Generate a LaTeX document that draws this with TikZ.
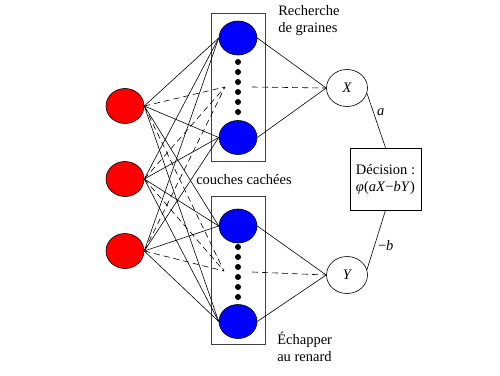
\documentclass[tikz,border=0pt]{standalone}
\usepackage{fontspec}
\setmainfont{Liberation Serif}
\usetikzlibrary{shapes.geometric}

\begin{document}
\begin{tikzpicture}[x=1pt,y=-1pt,line width=0.6pt,
  every node/.style={font=\rmfamily\fontsize{14.5}{17}\selectfont},
  inp/.style={ellipse,draw,fill=red,minimum width=38pt,minimum height=35pt,inner sep=0pt},
  hid/.style={ellipse,draw,fill=blue,minimum width=38pt,minimum height=34pt,inner sep=0pt},
  outp/.style={ellipse,draw,minimum width=41pt,minimum height=37pt,inner sep=0pt,
    font=\rmfamily\fontsize{14.5}{17}\selectfont\itshape},
  grp/.style={draw=black!75,line width=0.8pt,minimum width=54pt,minimum height=148pt},
  dot/.style={circle,fill,inner sep=0pt,minimum size=6pt},
  tiret/.style={dash pattern=on 6pt off 4pt}]
\useasboundingbox (0,0) rectangle (500,375);
% groupes de la couche cachee
\node[grp] (gu) at (238,87) {};
\node[grp] (gd) at (238,270.5) {};
\node[inp] (i1) at (125,106) {};
\node[inp] (i2) at (125,179) {};
\node[inp] (i3) at (125,251) {};
\node[hid] (h1) at (238,38) {};
\node[hid] (h2) at (238,137.5) {};
\node[hid] (h3) at (238,226) {};
\node[hid] (h4) at (238,321.5) {};
\foreach \k/\y in {1/62,2/72,3/82,4/92,5/102,6/112} {
  \node[dot] (du\k) at (238,\y) {};
  \node[dot] (dd\k) at (238,\y+185) {};
}
\coordinate (hu) at (225,87);
\coordinate (hd) at (224,271);
\coordinate (mu) at (252,87);
\coordinate (md) at (252,272);
\node[outp] (X) at (347,88) {X};
\node[outp] (Y) at (347,275) {Y};
\node[draw,minimum width=71pt,minimum height=62pt,align=center] (dec) at (385.5,179)
  {Décision :\\\textit{φ}(\textit{aX}−\textit{bY})};
% textes
\node[anchor=north west,inner sep=0pt,align=left] (rg) at (278,5) {Recherche\\de graines};
\node (cc) at (244,180) {couches cachées};
\node[anchor=north west,inner sep=0pt,align=left] (er) at (277,332) {Échapper\\au renard};
% liaisons
\foreach \i in {1,2,3} {
  \foreach \h in {1,2,3,4} \draw (i\i.east) -- (h\h.west);
  \draw[tiret] (i\i.east) -- (hu);
  \draw[tiret] (i\i.east) -- (hd);
}
\draw (h1.east) -- (X.west);
\draw (h2.east) -- (X.west);
\draw[tiret] (mu) -- (X.west);
\draw (h3.east) -- (Y.west);
\draw (h4.east) -- (Y.west);
\draw[tiret] (md) -- (Y.west);
\draw (X.-15) -- node[pos=0.35,right] (la) {\textit{a}} (dec.north);
\draw (dec.south) -- node[pos=0.6,right] (lb) {−\textit{b}} (Y.15);
\end{tikzpicture}
\end{document}
